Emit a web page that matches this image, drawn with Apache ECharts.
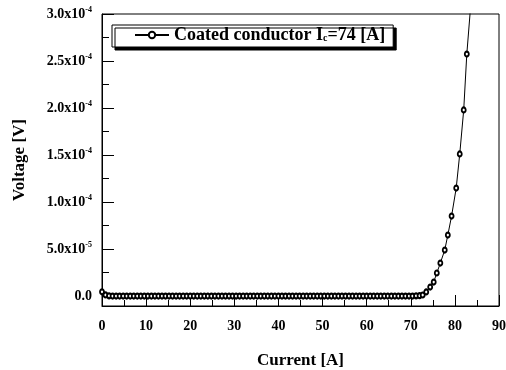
<!DOCTYPE html>
<html>
<head>
<meta charset="utf-8">
<script src="https://cdn.jsdelivr.net/npm/echarts@6/dist/echarts.min.js"></script>
<style>
  html, body { margin: 0; padding: 0; background: #fff; }
  #chart { width: 506px; height: 370px; }
</style>
</head>
<body>
<div id="chart"></div>
<script>
// measured I-V curve, current in A, voltage in V
var current = [0, 0.8, 1.6, 2.4, 3.2, 4.0, 4.8, 5.6, 6.4, 7.2, 8.0, 8.8, 9.6, 10.4, 11.2, 12.0,
    12.8, 13.6, 14.4, 15.2, 16.0, 16.8, 17.6, 18.4, 19.2, 20.0, 20.8, 21.6, 22.4, 23.2, 24.0,
    24.8, 25.6, 26.4, 27.2, 28.0, 28.8, 29.6, 30.4, 31.2, 32.0, 32.8, 33.6, 34.4, 35.2, 36.0,
    36.8, 37.6, 38.4, 39.2, 40.0, 40.8, 41.6, 42.4, 43.2, 44.0, 44.8, 45.6, 46.4, 47.2, 48.0,
    48.8, 49.6, 50.4, 51.2, 52.0, 52.8, 53.6, 54.4, 55.2, 56.0, 56.8, 57.6, 58.4, 59.2, 60.0,
    60.8, 61.6, 62.4, 63.2, 64.0, 64.8, 65.6, 66.4, 67.2, 68.0, 68.8, 69.6, 70.4, 71.2, 72.0,
    72.7, 73.5, 74.4, 75.2, 75.9, 76.7, 77.7, 78.4, 79.25, 80.3, 81.1, 82.0, 82.7]
var voltage = [4.5e-6, 1.2e-6, 2e-7, 0, 0, 0, 0, 0, 0, 0, 0, 0, 0, 0, 0, 0,
    0, 0, 0, 0, 0, 0, 0, 0, 0, 0, 0, 0, 0, 0, 0,
    0, 0, 0, 0, 0, 0, 0, 0, 0, 0, 0, 0, 0, 0, 0,
    0, 0, 0, 0, 0, 0, 0, 0, 0, 0, 0, 0, 0, 0, 0,
    0, 0, 0, 0, 0, 0, 0, 0, 0, 0, 0, 0, 0, 0, 0,
    0, 0, 0, 0, 0, 0, 0, 0, 0, 0, 0, 0, 0, 2e-7, 4e-7,
    1.1e-6, 4.3e-6, 9.6e-6, 1.49e-5, 2.45e-5, 3.51e-5, 4.89e-5, 6.49e-5, 8.51e-5,
    1.149e-4, 1.511e-4, 1.979e-4, 2.574e-4]
// the fitted line runs on past the last point and out of the frame
var lineEnd = [83.6, 3.1e-4]

var yMajor = [0, 5e-5, 1e-4, 1.5e-4, 2e-4, 2.5e-4, 3e-4]
var yMinor = [2.5e-5, 7.5e-5, 1.25e-4, 1.75e-4, 2.25e-4, 2.75e-4]

var font = 'Liberation Serif, Times New Roman, serif'

var points = current.map(function (c, i) { return [c, voltage[i]] })
points.push({ value: lineEnd, symbol: 'none' })

function sciLabel(v) {
    if (Math.abs(v) < 1e-12) return '0.0'
    var e = Math.floor(Math.log10(v) + 1e-9)
    var m = (v / Math.pow(10, e)).toFixed(1)
    return m + 'x10{sup|' + e + '}'
}

var option = {
    backgroundColor: '#fff',
    animation: false,
    grid: {
        left: 102, right: 7, top: 14, bottom: 64,
        outerBoundsMode: 'none',
        show: true, borderColor: '#000', borderWidth: 1
    },
    legend: {
        left: 112, top: 25,
        padding: [1, 8, 3, 22],
        itemWidth: 34, itemHeight: 8, itemGap: 12,
        backgroundColor: '#fff',
        borderColor: '#000', borderWidth: 1,
        shadowColor: '#000', shadowBlur: 0, shadowOffsetX: 3, shadowOffsetY: 3,
        formatter: function () { return 'Coated conductor I{sub|c}=74 [A]' },
        textStyle: {
            fontFamily: font, fontWeight: 'bold', fontSize: 18, color: '#000', lineHeight: 16,
            rich: {
                sub: { fontFamily: font, fontWeight: 'bold', fontSize: 10, color: '#000',
                    verticalAlign: 'bottom', lineHeight: 2 }
            }
        }
    },
    xAxis: {
        type: 'value', min: 0, max: 90, interval: 10,
        name: 'Current [A]', nameLocation: 'middle', nameGap: 46,
        nameTextStyle: { fontFamily: font, fontWeight: 'bold', fontSize: 17, color: '#000' },
        axisLine: { onZero: false, lineStyle: { color: '#000', width: 1 } },
        axisTick: { inside: true, length: 11, lineStyle: { color: '#000' } },
        minorTick: { show: true, splitNumber: 2, length: 6, lineStyle: { color: '#000' } },
        splitLine: { show: false },
        axisLabel: { margin: 13, fontFamily: font, fontWeight: 'bold', fontSize: 14, color: '#000' }
    },
    yAxis: [{
        type: 'value', min: -1.06e-5, max: 3e-4,
        name: 'Voltage [V]', nameLocation: 'middle', nameGap: 74,
        nameTextStyle: { fontFamily: font, fontWeight: 'bold', fontSize: 17, color: '#000' },
        axisLine: { show: true, onZero: false, lineStyle: { color: '#000', width: 1 } },
        axisTick: { inside: true, length: 12, customValues: yMajor, lineStyle: { color: '#000' } },
        splitLine: { show: false },
        axisLabel: {
            customValues: yMajor, margin: 10, formatter: sciLabel,
            fontFamily: font, fontWeight: 'bold', fontSize: 14, color: '#000', lineHeight: 16,
            rich: {
                sup: { fontFamily: font, fontWeight: 'bold', fontSize: 8, color: '#000',
                    verticalAlign: 'top', lineHeight: 8 }
            }
        }
    }, {
        type: 'value', min: -1.06e-5, max: 3e-4, position: 'left',
        axisLine: { show: false },
        axisTick: { show: true, inside: true, length: 7, customValues: yMinor, lineStyle: { color: '#000' } },
        axisLabel: { show: false },
        splitLine: { show: false }
    }],
    series: [{
        name: 'Coated conductor',
        type: 'line',
        data: points,
        symbol: 'emptyCircle',
        symbolSize: [4, 5],
        showAllSymbol: true,
        color: '#000',
        lineStyle: { color: '#000', width: 1 },
        itemStyle: { color: '#000', borderColor: '#000', borderWidth: 1 }
    }]
}

var myChart = echarts.init(document.getElementById('chart'))
myChart.setOption(option)
</script>
</body>
</html>
